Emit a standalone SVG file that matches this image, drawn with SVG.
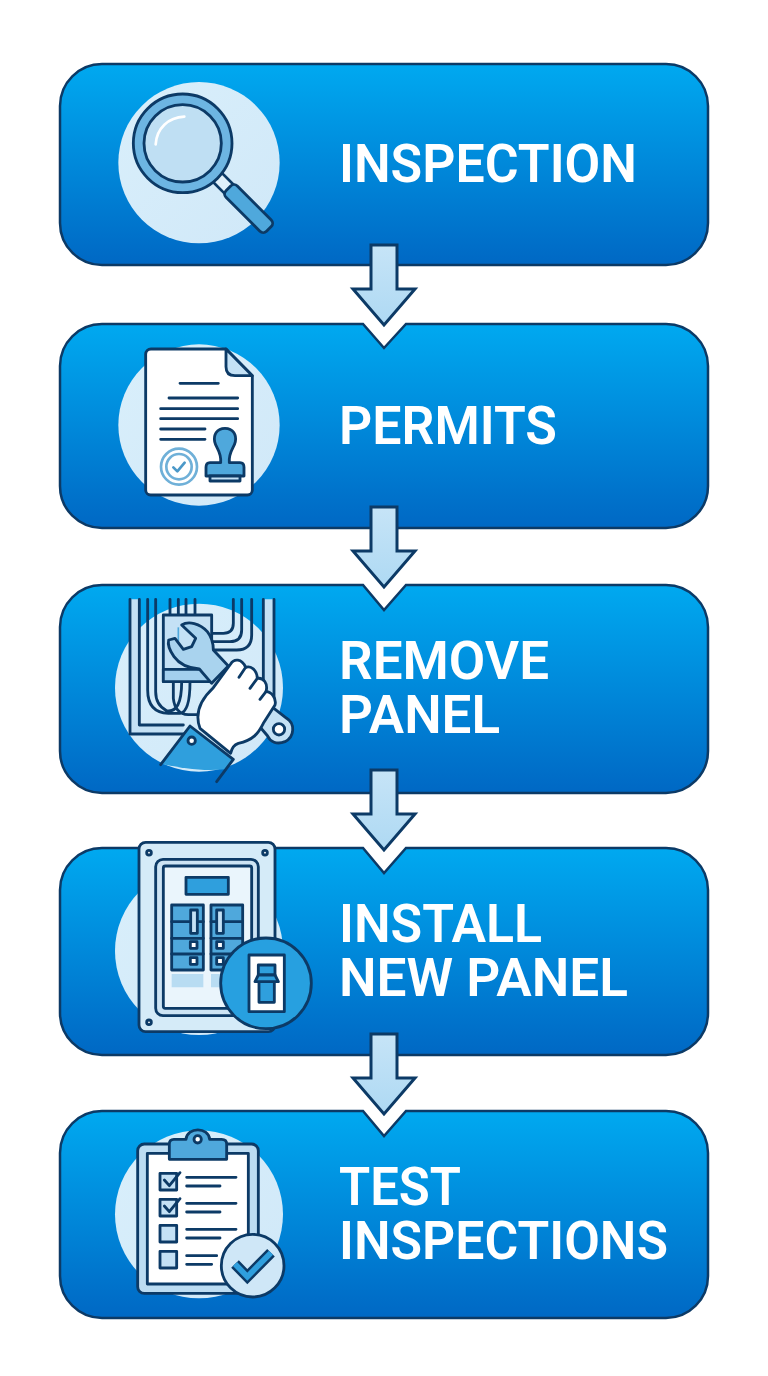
<svg xmlns="http://www.w3.org/2000/svg" xmlns:xlink="http://www.w3.org/1999/xlink" width="768" height="1376" viewBox="0 0 768 1376">
<style>
.box{fill:url(#boxG);stroke:#0c3a66;stroke-width:2.5}
.t{font-family:Roboto,"Liberation Sans",sans-serif;font-size:53px;font-weight:600;fill:#fff}
.bg{fill:url(#bgG)}
.o{stroke:#0c3a66;stroke-width:8.500;stroke-linejoin:round;stroke-linecap:round}
.n{fill:none}
.w{fill:#fff}
.l{fill:#c4e1f5}
.m{fill:#4fa8dc}
.d{fill:#2f9fdd}
.a{fill:url(#arG);stroke:#0c3a66;stroke-width:3;stroke-linejoin:miter}
</style>
<defs>
<linearGradient id="boxG" x1="0" y1="0" x2="0" y2="1"><stop offset="0" stop-color="#00a9f0"/><stop offset="1" stop-color="#0068c4"/></linearGradient>
<linearGradient id="bgG" x1="0" y1="0" x2="1" y2="1"><stop offset="0" stop-color="#d9effb"/><stop offset="1" stop-color="#d0e8f8"/></linearGradient>
<linearGradient id="arG" x1="0" y1="0" x2="0" y2="1"><stop offset="0" stop-color="#c6e4f7"/><stop offset="1" stop-color="#aed9f3"/></linearGradient>
<path id="arrow" class="a" d="M371 245H397V289H415L384 325L353 289H371Z"/>
</defs>
<rect width="768" height="1376" fill="#fff"/>

<g id="node-inspection">
<path class="box" d="M102 64H666A42 42 0 0 1 708 106V223A42 42 0 0 1 666 265H102A42 42 0 0 1 60 223V106A42 42 0 0 1 102 64Z"/>
<g transform="translate(100 60) scale(.33333)">
<circle class="bg" cx="297" cy="308" r="242"/>
<path d="M340 340L392 392" stroke="#0c3a66" stroke-width="46" fill="none"/>
<path d="M340 340L392 392" stroke="#e0f0fa" stroke-width="30" fill="none"/>
<rect class="o m" x="385" y="361" width="172" height="48" rx="14" transform="rotate(45 385 385)"/>
<circle class="o" cx="248" cy="250" r="148" fill="#6db5e2"/>
<circle class="o" cx="248" cy="250" r="116" fill="#bfdff3"/>
<path d="M167 253C170 205 205 172 253 170" fill="none" stroke="#fff" stroke-width="8" stroke-linecap="round"/>
</g>
<text class="t" x="339" y="182" textLength="298" lengthAdjust="spacingAndGlyphs">INSPECTION</text>
</g>

<g id="node-permits">
<path class="box" d="M102 324H363L384 348L406 324H666A42 42 0 0 1 708 366V486A42 42 0 0 1 666 528H102A42 42 0 0 1 60 486V366A42 42 0 0 1 102 324Z"/>
<g transform="translate(100 330) scale(.33333)">
<circle class="bg" cx="297" cy="285" r="242"/>
<path class="o w" d="M153 57H378L457 137V480A15 15 0 0 1 442 495H152A15 15 0 0 1 137 480V73A16 16 0 0 1 153 57Z"/>
<path class="o l" d="M378 57V110Q378 137 405 137H457Z"/>
<path class="o n" d="M240 160H355M207 204H413M182 236H413M182 266H413M182 297H315M182 328H315"/>
<g fill="none" stroke="#6fb0d8" stroke-width="8"><circle cx="237" cy="410" r="54"/><circle cx="237" cy="410" r="38"/></g>
<path d="M220 412L232 424L254 398" fill="none" stroke="#4b98c8" stroke-width="8" stroke-linecap="round" stroke-linejoin="round"/>
<path class="o m" d="M375 295C350 295 340 315 344 335C348 355 365 365 362 398H330Q318 398 318 412V438H432V412Q432 398 420 398H388C385 365 402 355 406 335C410 315 400 295 375 295Z"/>
<path class="o l" d="M330 438H420V453H330Z"/>
</g>
<text class="t" x="339" y="444" textLength="218" lengthAdjust="spacingAndGlyphs">PERMITS</text>
</g>

<g id="node-remove-panel">
<path class="box" d="M102 585H363L384 610L406 585H666A42 42 0 0 1 708 627V751A42 42 0 0 1 666 793H102A42 42 0 0 1 60 751V627A42 42 0 0 1 102 585Z"/>
<g transform="translate(100 590) scale(.33333)">
<circle class="bg" cx="297" cy="293" r="252"/>
<path class="l" d="M90 28H118V405H250V432H90ZM490 28H522V350H490Z"/>
<path class="o n" d="M90 28V432H250M118 28V405H250M490 28V340M522 28V340"/>
<path class="o n" d="M143 28V300Q143 368 205 370H240Q270 365 270 275M167 28V305Q167 345 200 362Q245 370 245 275M220 275V325Q225 372 265 374H295M210 28V75M235 28V75M258 28V75M285 28V75"/>
<path class="o n" d="M400 28V100Q400 130 370 130H335M425 28V120Q425 155 390 155H335M455 28V135Q455 180 410 180H335"/>
<path class="o l" d="M190 75H335V275H190Z"/>
<path class="o" fill="#a3d0ee" d="M190 238H335V275H190Z"/>
<path d="M235 112V155" stroke="#4fa8dc" stroke-width="5"/>
<path class="o" fill="#a9d3ee" d="M245 105C265 92 300 100 322 125C338 145 340 165 340 180L385 228L335 280L298 237C270 235 240 225 222 200C208 180 202 165 206 150L225 145L250 178L275 170L287 145Z"/>
<path class="o" fill="#c4e1f5" d="M515 350L560 385C585 400 585 440 555 455C530 465 510 455 503 438L475 405Z"/>
<circle class="o" cx="537" cy="418" r="17" fill="#fff"/>
<path class="o w" d="M340 293L392 222C402 205 425 205 437 232C450 228 470 235 472 265C490 262 505 280 498 305C515 305 530 325 525 345L490 400C475 430 460 450 415 460C400 465 395 475 392 490L300 415C285 375 295 335 340 293Z"/>
<path class="o n" d="M437 232L417 262M472 265L450 295M498 305L480 328"/>
<path d="M185 522L270 408L400 508L375 538C310 545 250 535 185 522Z" fill="#2f9fdd"/>
<path class="o n" d="M182 524L270 408L400 508L350 575"/>
<circle class="o" cx="275" cy="452" r="11" fill="#fff"/>
</g>
<text class="t" x="339" y="679" textLength="210" lengthAdjust="spacingAndGlyphs">REMOVE</text>
<text class="t" x="339" y="733" textLength="161" lengthAdjust="spacingAndGlyphs">PANEL</text>
</g>

<g id="node-install-new-panel">
<path class="box" d="M102 848H363L384 873L406 848H666A42 42 0 0 1 708 890V1013A42 42 0 0 1 666 1055H102A42 42 0 0 1 60 1013V890A42 42 0 0 1 102 848Z"/>
<g transform="translate(100 830) scale(.33333)">
<circle class="bg" cx="297" cy="363" r="252"/>
<rect class="o" x="117" y="37" width="408" height="568" rx="20" fill="#d5ebf8"/>
<circle class="o" cx="147" cy="68" r="7" fill="#fff"/>
<circle class="o" cx="495" cy="68" r="7" fill="#fff"/>
<circle class="o" cx="147" cy="577" r="7" fill="#fff"/>
<rect class="o" x="167" y="88" width="308" height="469" rx="22" fill="#cde4f4"/>
<rect class="o" x="190" y="108" width="265" height="427" rx="6" fill="#eaf5fc"/>
<rect class="o d" x="258" y="142" width="127" height="51"/>
<path class="o m" d="M215 225H310V420H215ZM333 225H428V420H333Z"/>
<path class="o n" d="M215 275H310M215 325H310M215 372H310M333 275H428M333 325H428M333 372H428"/>
<path class="o l" d="M272 240H292V310H272ZM350 240H370V310H350Z"/>
<path class="o w" d="M271 335H291V355H271ZM271 383H291V403H271ZM350 335H370V355H350ZM350 383H370V403H350Z"/>
<path d="M215 432H310V472H215ZM333 432H428V472H333Z" fill="#b8dcf2"/>
<circle class="o" cx="498" cy="460" r="136" fill="#27a0e0"/>
<rect class="o w" x="447" y="375" width="106" height="170"/>
<path class="o d" d="M477 455H523V517H477ZM475 405H525V435H475Z"/>
<path class="o d" d="M475 435H525L535 455H465Z"/>
</g>
<text class="t" x="339" y="942" textLength="203" lengthAdjust="spacingAndGlyphs">INSTALL</text>
<text class="t" x="339" y="996" textLength="289" lengthAdjust="spacingAndGlyphs">NEW PANEL</text>
</g>

<g id="node-test-inspections">
<path class="box" d="M102 1111H363L384 1136L406 1111H666A42 42 0 0 1 708 1153V1276A42 42 0 0 1 666 1318H102A42 42 0 0 1 60 1276V1153A42 42 0 0 1 102 1111Z"/>
<g transform="translate(100 1120) scale(.33333)">
<circle class="bg" cx="297" cy="283" r="252"/>
<rect class="o" x="113" y="72" width="362" height="448" rx="20" fill="#bcdcf2"/>
<rect class="o w" x="142" y="100" width="303" height="392"/>
<path class="o m" d="M222 58H258C262 20 325 20 329 58H365Q380 58 380 72V118H208V72Q208 58 222 58Z"/>
<circle class="o" cx="293" cy="58" r="11" fill="#fff"/>
<path class="o l" d="M180 160H230V210H180ZM180 238H230V288H180ZM180 316H230V366H180ZM180 394H230V444H180Z"/>
<path class="o n" d="M193 180L208 197L240 158M193 258L208 275L240 236"/>
<path class="o n" d="M260 172H408M260 198H360M260 250H408M260 276H360M260 328H408M260 354H360M260 407H350M260 433H335"/>
<circle class="o" cx="458" cy="437" r="94" fill="#cfe7f7"/>
<path d="M405 432L442 470L513 398" fill="none" stroke="#0c3a66" stroke-width="32"/>
<path d="M405 432L442 470L513 398" fill="none" stroke="#2f9fdd" stroke-width="17"/>
</g>
<text class="t" x="339" y="1205" textLength="122" lengthAdjust="spacingAndGlyphs">TEST</text>
<text class="t" x="339" y="1259" textLength="329" lengthAdjust="spacingAndGlyphs">INSPECTIONS</text>
</g>

<g id="connectors">
<use xlink:href="#arrow" href="#arrow"/>
<use xlink:href="#arrow" href="#arrow" y="262"/>
<use xlink:href="#arrow" href="#arrow" y="525"/>
<use xlink:href="#arrow" href="#arrow" y="789"/>
</g>
</svg>
